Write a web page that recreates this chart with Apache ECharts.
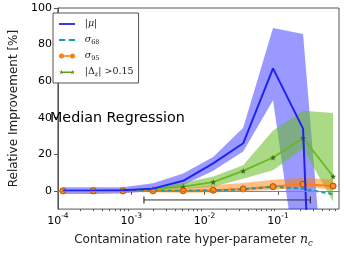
<!DOCTYPE html>
<html><head><meta charset="utf-8">
<script src="https://cdn.jsdelivr.net/npm/echarts@6/dist/echarts.min.js"></script>
<style>html,body{margin:0;padding:0;background:#fff}#c{width:344px;height:253px}</style>
</head><body><div id="c"></div>
<script>
// contamination rate hyper-parameter values (x)
const nc = [1.17e-4, 3.05e-4, 7.7e-4, 1.98e-3, 5.1e-3, 1.31e-2, 3.36e-2, 8.57e-2, 0.220, 0.566];
// |mu| relative improvement and band
const mu    = [0, 0, 0.3, 1.2, 5.5, 15, 26, 67, 34, -380];
const muLo  = [-1.7, -1.7, -1.4, 0, 3, 11, 21.5, 49.5, -65, -450];
const muHi  = [2, 2, 2, 4.2, 9.5, 18.5, 34.5, 89, 85.8, -112];
// sigma68
const s68   = [0, 0, 0, 0, 0, 0.2, 0.8, 2.2, 1.2, -1.8];
// sigma95 and band
const s95   = [0, 0, 0, 0, 0, 0.3, 1, 2.3, 3.6, 2.6];
const s95Lo = [-0.8, -0.8, -0.8, -0.8, -1, -0.9, -0.3, 0.5, 1.9, 0.9];
const s95Hi = [0.8, 0.8, 0.8, 0.8, 1.5, 3.1, 4.3, 6.1, 7.1, 6.1];
// |Delta z| > 0.15 and band
const dz    = [0, 0, 0, 1, 2.3, 4.8, 10.9, 18.2, 28.9, 7.8];
const dzLo  = [-0.5, -0.5, -0.5, 0.3, 1, 2.2, 6.6, 11.3, 23, -6];
const dzHi  = [0.5, 0.5, 0.5, 1.6, 4.3, 7.8, 14, 33, 43.8, 42.6];
// horizontal range bar
const rangeX = [1.49e-3, 0.277];
const rangeY = -5;
// axis ticks
const xMajor = [1e-4, 1e-3, 1e-2, 1e-1];
const xMinor = [];
[1e-4, 1e-3, 1e-2, 1e-1].forEach(d => { for (let m = 2; m <= 9; m++) xMinor.push(d * m); });
const yTicks = [0, 20, 40, 60, 80, 100];

const pairs = (xs, ys) => xs.map((x, i) => [x, ys[i]]);

function band(lo, hi, color) {
  return {
    type: 'custom', silent: true, z: 1, clip: true,
    data: nc.map((x, i) => [x, lo[i], hi[i]]),
    encode: {x: 0, y: [1, 2]},
    renderItem: (params, api) => {
      if (params.dataIndex !== 0) return null;
      const top = [], bot = [];
      for (let i = 0; i < nc.length; i++) {
        top.push(api.coord([nc[i], hi[i]]));
        bot.push(api.coord([nc[i], lo[i]]));
      }
      const cs = params.coordSys;
      return {
        type: 'polygon',
        shape: {points: top.concat(bot.reverse())},
        style: {fill: color},
        clipPath: {type: 'rect', shape: {x: cs.x, y: cs.y, width: cs.width, height: cs.height}}
      };
    }
  };
}

const star = 'path://M0,-10 L2.4,-3.1 9.5,-3.1 3.8,1.2 5.9,8.1 0,4 -5.9,8.1 -3.8,1.2 -9.5,-3.1 -2.4,-3.1 Z';

// legend icons (line samples)
const iconLine = 'path://M0,0 H16 V1.8 H0 Z';
const iconDash = 'path://M0,0 H5 V1.8 H0 Z M8,0 H13 V1.8 H8 Z';
const iconCirc = 'path://M2.5,1.8 H13.5 V3.2 H2.5 Z M0,2.5 A2.5,2.5 0 1 1 5,2.5 A2.5,2.5 0 1 1 0,2.5 Z M11,2.5 A2.5,2.5 0 1 1 16,2.5 A2.5,2.5 0 1 1 11,2.5 Z';
const iconStar = 'path://M2.5,1.8 H13.5 V3.2 H2.5 Z M2.5,0 L3.1,1.72 4.88,1.72 3.45,2.8 3.98,4.53 2.5,3.5 1.02,4.53 1.55,2.8 0.12,1.72 1.9,1.72 Z M13.5,0 L14.1,1.72 15.88,1.72 14.45,2.8 14.98,4.53 13.5,3.5 12.02,4.53 12.55,2.8 11.12,1.72 12.9,1.72 Z';

const legendLabels = {
  mu: '\u2002|{i|μ}|',
  s68: '\u2002{i|σ}{s|68}',
  s95: '\u2002{i|σ}{s|95}',
  dz: '\u2002|Δ{si|z}| >0.15'
};

const chart = echarts.init(document.getElementById('c'), null, {renderer: 'canvas'});
chart.setOption({
  animation: false,
  textStyle: {fontFamily: 'DejaVu Sans'},
  grid: {left: 49, right: 5, top: 8, bottom: 33, show: true, borderColor: '#555', borderWidth: 1},
  title: {text: 'Median Regression', left: 50, top: 111, padding: 0,
    textStyle: {fontSize: 14.3, fontWeight: 'normal', color: '#000', fontFamily: 'DejaVu Sans'}},
  legend: {
    data: [
      {name: 'mu', icon: iconLine, itemStyle: {color: '#2222ee', borderWidth: 0}},
      {name: 's68', icon: iconDash, itemStyle: {color: '#1b9aaa', borderWidth: 0}},
      {name: 's95', icon: iconCirc, itemStyle: {color: '#ff7f0e', borderWidth: 0}},
      {name: 'dz', icon: iconStar, itemStyle: {color: '#5a9e1a', borderWidth: 0}}
    ],
    orient: 'vertical', left: 53, top: 13,
    padding: [5, 5, 5, 6], itemGap: 4, itemWidth: 16, itemHeight: 10,
    borderColor: '#555', borderWidth: 1, borderRadius: 0, backgroundColor: '#fff',
    formatter: n => legendLabels[n],
    textStyle: {fontFamily: 'DejaVu Serif', fontSize: 9.5, color: '#222', lineHeight: 12,
      rich: {
        i: {fontFamily: 'DejaVu Serif', fontStyle: 'italic', fontSize: 9.5, color: '#222', lineHeight: 12},
        s: {fontFamily: 'DejaVu Serif', fontSize: 6.5, color: '#222', verticalAlign: 'bottom'},
        si: {fontFamily: 'DejaVu Serif', fontStyle: 'italic', fontSize: 6.5, color: '#222', verticalAlign: 'bottom'}
      }}
  },
  xAxis: [{
    type: 'log', logBase: 10, min: 1e-4, max: 0.68, position: 'bottom',
    axisLine: {lineStyle: {color: '#555', width: 1}},
    axisTick: {customValues: xMajor, length: 4, lineStyle: {color: '#555'}},
    splitLine: {show: false},
    axisLabel: {customValues: xMajor, margin: 3, color: '#000',
      formatter: v => {
        const e = Math.round(Math.log10(v));
        if (Math.abs(Math.log10(v) - e) > 1e-6) return '';
        return '{b|10}{p|' + (e < 0 ? '-' : '') + Math.abs(e) + '}';
      },
      rich: {
        b: {fontSize: 11, color: '#000', lineHeight: 15, verticalAlign: 'bottom', fontFamily: 'DejaVu Sans'},
        p: {fontSize: 7.5, color: '#000', verticalAlign: 'top', fontFamily: 'DejaVu Sans'}
      }},
    name: 'Contamination rate hyper-parameter {i|n}{s|c}',
    nameLocation: 'middle', nameGap: 19,
    nameTextStyle: {fontSize: 12, color: '#222', fontFamily: 'DejaVu Sans', padding: [0, 10, 0, 0], lineHeight: 16,
      rich: {
        i: {fontFamily: 'DejaVu Serif', fontStyle: 'italic', fontSize: 12.5, color: '#222', lineHeight: 16},
        s: {fontFamily: 'DejaVu Serif', fontStyle: 'italic', fontSize: 8.5, color: '#222', verticalAlign: 'bottom'}
      }}
  }, {
    type: 'log', logBase: 10, min: 1e-4, max: 0.68, position: 'bottom',
    axisLine: {show: false},
    axisTick: {customValues: xMinor, length: 2, lineStyle: {color: '#555'}},
    axisLabel: {show: false},
    splitLine: {show: false}
  }],
  yAxis: {
    type: 'value', min: -10, max: 100, interval: 10,
    axisLine: {show: true, lineStyle: {color: '#555', width: 1}},
    axisTick: {show: true, customValues: yTicks, length: 4, lineStyle: {color: '#555'}},
    axisLabel: {customValues: yTicks, margin: 6, fontSize: 11, color: '#000'},
    splitLine: {show: false},
    name: 'Relative Improvement [%]', nameLocation: 'middle', nameGap: 28,
    nameTextStyle: {fontSize: 12, color: '#222', fontFamily: 'DejaVu Sans'}
  },
  series: [
    band(muLo, muHi, 'rgba(0,0,255,0.4)'),
    band(dzLo, dzHi, 'rgba(102,187,34,0.55)'),
    band(s95Lo, s95Hi, 'rgba(255,127,14,0.5)'),
    {name: 'dz', type: 'line', data: pairs(nc, dz), symbol: star, symbolSize: 6,
     lineStyle: {color: '#6ab820', width: 1.8}, itemStyle: {color: '#3d6b14', borderWidth: 0}, z: 3},
    {name: 's95', type: 'line', data: pairs(nc, s95), symbol: 'circle', symbolSize: 6,
     lineStyle: {color: '#ff7f0e', width: 2}, itemStyle: {color: '#ff8c1a', borderColor: '#8a3d00', borderWidth: 0.8}, z: 3},
    {name: 's68', type: 'line', data: pairs(nc, s68), symbol: 'none',
     lineStyle: {color: '#1b9aaa', width: 2, type: [4, 3]}, itemStyle: {color: '#1b9aaa'}, z: 3},
    {name: 'mu', type: 'line', data: pairs(nc, mu), symbol: 'none',
     lineStyle: {color: '#2222ee', width: 2}, itemStyle: {color: '#2222ee'}, z: 4,
     markLine: {silent: true, symbol: 'none', label: {show: false},
       lineStyle: {color: '#888', width: 1, type: 'solid'}, data: [{yAxis: 0}]}},
    {name: 'range', type: 'line', data: pairs(rangeX, [rangeY, rangeY]), symbol: 'rect', symbolSize: [1.2, 7],
     lineStyle: {color: '#333', width: 1}, itemStyle: {color: '#333'}, z: 4}
  ]
});
</script></body></html>
